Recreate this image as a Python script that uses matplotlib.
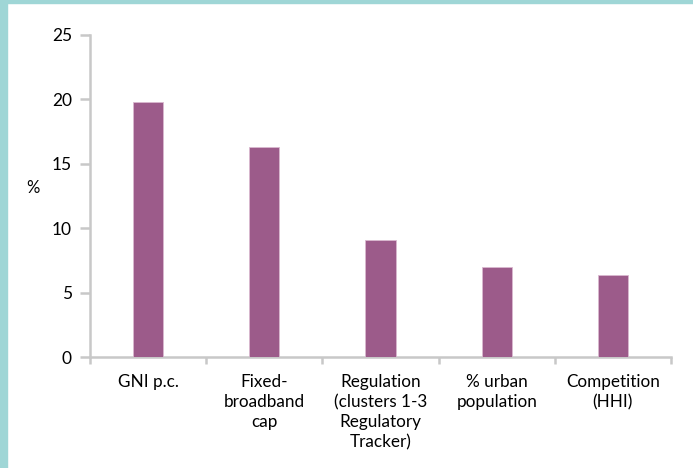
import matplotlib
matplotlib.use("Agg")
import matplotlib.pyplot as plt
from matplotlib.patches import Rectangle
from matplotlib.ticker import FixedLocator

categories = ["GNI p.c.", "Fixed-\nbroadband\ncap", "Regulation\n(clusters 1-3\nRegulatory\nTracker)",
              "% urban\npopulation", "Competition\n(HHI)"]
values = [19.8, 16.3, 9.1, 7.0, 6.35]
yticks = [0, 5, 10, 15, 20, 25]

plt.rcParams['font.family'] = ['Lato', 'DejaVu Sans']

fig = plt.figure(figsize=(6.93, 4.68), dpi=100)
fig.patch.set_facecolor("white")
teal = "#9FD6D6"
fig.patches.append(Rectangle((0, 0), 7/693, 1, transform=fig.transFigure, color=teal, zorder=0))
fig.patches.append(Rectangle((0, 1 - 3/468), 1, 3/468, transform=fig.transFigure, color=teal, zorder=0))

ax = fig.add_axes([90/693, 110.7/468, 581/693, 322.8/468])
x = list(range(len(categories)))
ax.bar(x, values, width=0.26, color="#9C5B8A", edgecolor="#D9B8CF", linewidth=0.6, zorder=3)

ax.set_xlim(-0.5, len(categories) - 0.5)
ax.set_ylim(0, 25)
ax.set_yticks(yticks)
ax.set_yticklabels([str(t) for t in yticks], fontsize=12.5, color="#000000")

ax.set_xticks(x)
ax.set_xticklabels(categories, fontsize=12.3, linespacing=1.3, va="top")
ax.xaxis.set_minor_locator(FixedLocator([i - 0.5 for i in range(len(categories) + 1)]))
ax.tick_params(axis="x", which="major", length=0, pad=12)
ax.tick_params(axis="x", which="minor", length=5, width=1.8, color="#C8C8C8", direction="out")
ax.tick_params(axis="y", length=7, width=1.8, color="#C8C8C8", pad=6)

for s in ["top", "right"]:
    ax.spines[s].set_visible(False)
for s in ["left", "bottom"]:
    ax.spines[s].set_color("#C8C8C8")
    ax.spines[s].set_linewidth(1.8)

ax.set_ylabel("%", rotation=0, fontsize=12, labelpad=0)
ax.yaxis.set_label_coords(-0.098, 0.5)

fig.savefig("out.png", dpi=100)
